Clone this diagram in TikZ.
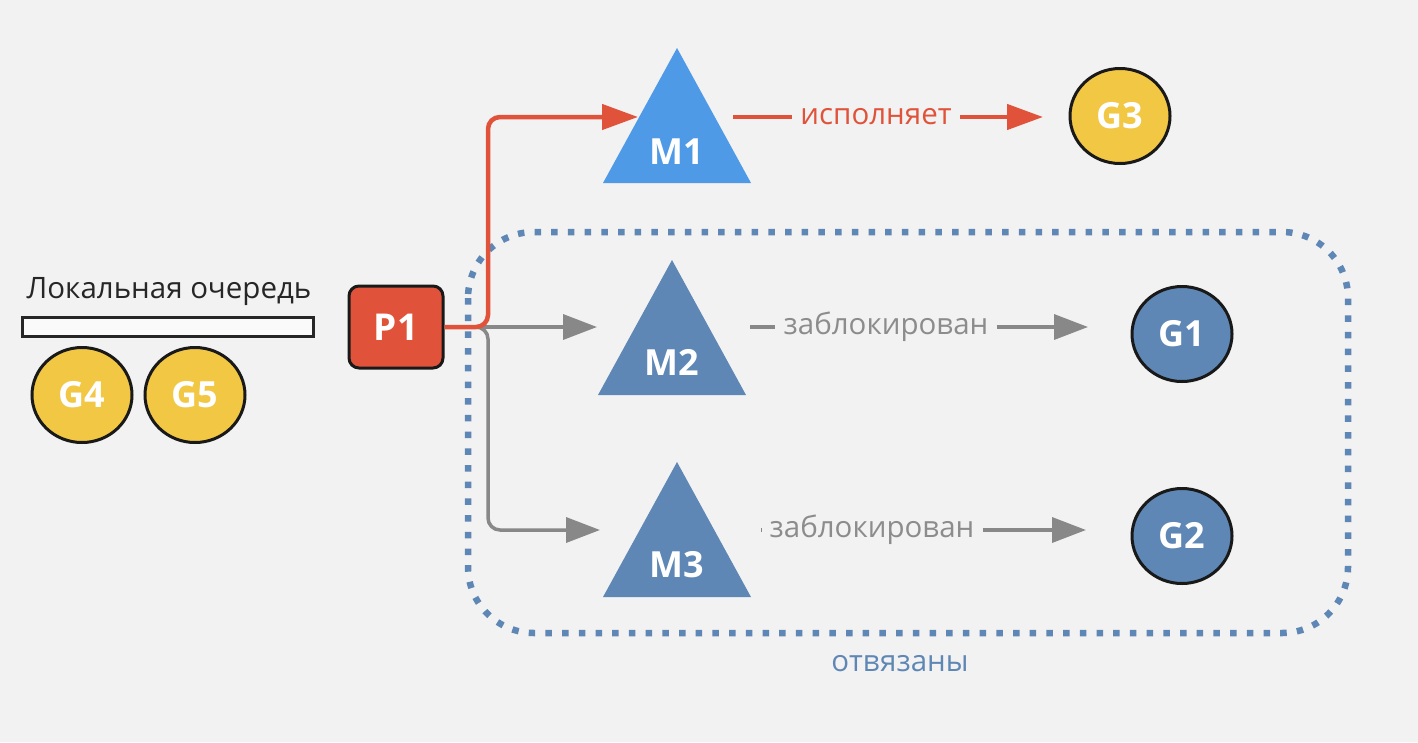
\documentclass[tikz,border=0pt]{standalone}
\usepackage{fontspec}
\setmainfont{Open Sans}
\usetikzlibrary{arrows.meta,shapes.geometric}
\definecolor{bg}{HTML}{F2F2F2}
\definecolor{pred}{HTML}{E0533A}
\definecolor{mblue}{HTML}{4F9AE6}
\definecolor{sblue}{HTML}{5E87B5}
\definecolor{gyel}{HTML}{F2C744}
\definecolor{lgray}{HTML}{888888}
\definecolor{tgray}{HTML}{8C8C8C}
\begin{document}
\begin{tikzpicture}[x=1pt,y=-1pt,
  gnode/.style={ellipse, draw=black!90, line width=3pt, minimum width=100pt, minimum height=95pt, inner sep=0pt, text=white, font=\fontsize{36}{40}\selectfont\bfseries},
  mlabel/.style={text=white, font=\fontsize{36}{40}\selectfont\bfseries, inner sep=0pt},
  lbl/.style={font=\fontsize{29.5}{32}\selectfont, inner sep=0pt},
  redline/.style={draw=pred, line width=4.5pt},
  grayline/.style={draw=lgray, line width=3.5pt},
  redtip/.style={-{Triangle[length=36pt,width=25pt]}},
  graytip/.style={-{Triangle[length=34pt,width=25pt]}},
  dotbox/.style={draw=sblue, line width=6.5pt, dash pattern=on 6.5pt off 10.2pt, rounded corners=66pt}
]
\useasboundingbox[fill=bg] (0,0) rectangle (1418,742);

% dotted group box
\draw[dotbox] (468,232) rectangle (1348,633);
\node[lbl, text=sblue] (unb) at (900,664) {отвязаны};

% local queue
\node[lbl, text=black!85] (lq) at (169,292) {Локальная очередь};
\node[draw=black!85, fill=white!60!bg, line width=3pt, minimum width=291pt, minimum height=19pt, inner sep=0pt] (bar) at (167.5,326.5) {};
\node[gnode, fill=gyel] (G4) at (82,395) {G4};
\node[gnode, fill=gyel] (G5) at (195,395) {G5};

% P1
\node[draw=black!90, fill=pred, line width=3pt, rounded corners=10pt, minimum width=94pt, minimum height=82pt, inner sep=0pt, text=white, font=\fontsize{37}{40}\selectfont\bfseries] (P1) at (396,327) {P1};

% triangles
\fill[mblue] (677,48) -- (751,183) -- (603,183) -- cycle;
\node[mlabel] (M1) at (677,152) {M1};
\fill[sblue] (672,260) -- (746,395) -- (598,395) -- cycle;
\node[mlabel] (M2) at (672,362) {M2};
\fill[sblue] (677,462) -- (751,597) -- (603,597) -- cycle;
\node[mlabel] (M3) at (677,565) {M3};

% G circles
\node[gnode, fill=gyel] (G3) at (1120,116) {G3};
\node[gnode, fill=sblue] (G1) at (1182,334) {G1};
\node[gnode, fill=sblue] (G2) at (1182,536) {G2};

% connector points
\coordinate (J) at (488,327);
\coordinate (M1in) at (638,117);
\coordinate (M2in) at (597,327);
\coordinate (M3in) at (600,530);
\coordinate (M1out) at (733,117);
\coordinate (M2out) at (750,327);
\coordinate (M3out) at (761,530);
\coordinate (G3in) at (1043,117);
\coordinate (G1in) at (1088,327);
\coordinate (G2in) at (1086,530);

% gray connectors from P1
\draw[grayline, graytip] (P1.east) -- (M2in);
\draw[grayline, graytip, rounded corners=12pt] (P1.east) -- (J) -- (488,530) -- (M3in);
% red connector from P1
\draw[redline, redtip, rounded corners=12pt] (P1.east) -- (J) -- (488,117) -- (M1in);

% labelled connectors
\node[lbl, text=pred, inner xsep=8pt] (L1) at (876,117) {исполняет};
\draw[redline] (M1out) -- (L1.west);
\draw[redline, redtip] (L1.east) -- (G3in);

\node[lbl, text=tgray, inner xsep=8pt] (L2) at (886,327) {заблокирован};
\draw[grayline] (M2out) -- (L2.west);
\draw[grayline, graytip] (L2.east) -- (G1in);

\node[lbl, text=tgray, inner xsep=8pt] (L3) at (872,530) {заблокирован};
\draw[grayline] (M3out) -- (L3.west);
\draw[grayline, graytip] (L3.east) -- (G2in);
\end{tikzpicture}
\end{document}
